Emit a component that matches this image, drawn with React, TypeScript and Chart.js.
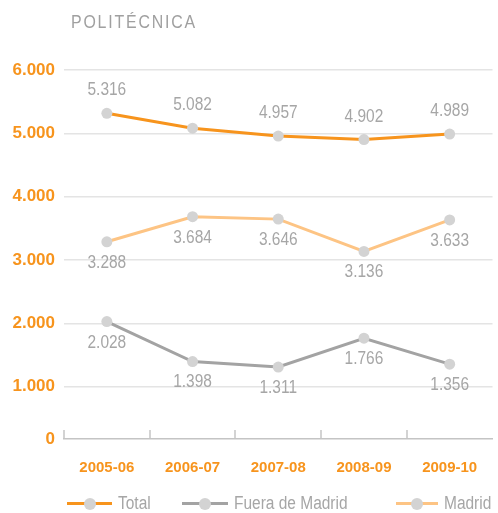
import React, { useEffect, useRef } from "react";
import { Chart, registerables } from "chart.js";

Chart.register(...registerables);

const categories = ["2005-06", "2006-07", "2007-08", "2008-09", "2009-10"];
const totalValues = [5316, 5082, 4957, 4902, 4989];
const fueraValues = [2028, 1398, 1311, 1766, 1356];
const madridValues = [3288, 3684, 3646, 3136, 3633];
const yTickValues = [0, 1000, 2000, 3000, 4000, 5000, 6000];
const seriesNames = ["Total", "Fuera de Madrid", "Madrid"];

const ORANGE = "#f7941d";
const LIGHT_ORANGE = "#fdc484";
const GRAY_LINE = "#a3a3a3";
const POINT = "#d3d3d3";
const TEXT_GRAY = "#a6a6a6";
const FONT = '"Liberation Sans", Arial, sans-serif';
const SQUEEZE = 0.86;

const AXIS_BASE = 175; // visual position of the "0" baseline in the original

const fmt = (v: number) => {
  const s = Math.round(v).toString();
  return s.replace(/\B(?=(\d{3})+(?!\d))/g, ".");
};

const valueLabels = {
  id: "valueLabels",
  afterDatasetsDraw(chart: any) {
    const ctx = chart.ctx;
    chart.data.datasets.forEach((ds: any, i: number) => {
      const meta = chart.getDatasetMeta(i);
      meta.data.forEach((pt: any, j: number) => {
        ctx.save();
        ctx.font = `18px ${FONT}`;
        ctx.fillStyle = TEXT_GRAY;
        ctx.textAlign = "center";
        ctx.textBaseline = "middle";
        ctx.translate(pt.x, pt.y + ds.labelOffset);
        ctx.scale(SQUEEZE, 1);
        ctx.fillText(fmt(ds.data[j]), 0, 0);
        ctx.restore();
      });
    });
  },
};

const axisTicks = {
  id: "axisTicks",
  afterDraw(chart: any) {
    const x = chart.scales.x;
    const ctx = chart.ctx;
    ctx.save();
    ctx.strokeStyle = "#c4c4c4";
    ctx.lineWidth = 1.5;
    for (let i = 0; i < categories.length; i++) {
      const px = Math.round(x.getPixelForValue(i - 0.5));
      ctx.beginPath();
      ctx.moveTo(px, x.top);
      ctx.lineTo(px, x.top - 9);
      ctx.stroke();
    }
    ctx.restore();
  },
};

function LegendItem({ left, color, label, lineW }: any) {
  return (
    <div style={{ position: "absolute", left, top: 492, height: 22, display: "flex", alignItems: "center" }}>
      <div style={{ position: "relative", width: lineW, height: 22 }}>
        <div style={{ position: "absolute", left: 0, right: 0, top: 10, height: 3, background: color }} />
        <div
          style={{
            position: "absolute",
            left: lineW / 2 - 6,
            top: 5.5,
            width: 12,
            height: 12,
            borderRadius: 6,
            background: POINT,
          }}
        />
      </div>
      <span
        style={{
          marginLeft: 6,
          font: `18px ${FONT}`,
          color: TEXT_GRAY,
          whiteSpace: "nowrap",
          display: "inline-block",
          transform: `scaleX(${SQUEEZE})`,
          transformOrigin: "left center",
        }}
      >
        {label}
      </span>
    </div>
  );
}

export default function App() {
  const ref = useRef<HTMLCanvasElement>(null);

  useEffect(() => {
    if (!ref.current) return;
    const common = {
      borderWidth: 3,
      pointBackgroundColor: POINT,
      pointBorderWidth: 0,
      pointRadius: 5.5,
      tension: 0,
    };
    const chart = new Chart(ref.current, {
      type: "line",
      data: {
        labels: categories,
        datasets: [
          { ...common, label: seriesNames[0], data: totalValues, borderColor: ORANGE, labelOffset: -23 } as any,
          { ...common, label: seriesNames[1], data: fueraValues, borderColor: GRAY_LINE, labelOffset: 21 } as any,
          { ...common, label: seriesNames[2], data: madridValues, borderColor: LIGHT_ORANGE, labelOffset: 21 } as any,
        ],
      },
      options: {
        animation: false,
        responsive: true,
        maintainAspectRatio: false,
        layout: { padding: { top: 70, left: 0, right: 0, bottom: 0 } },
        plugins: {
          legend: { display: false },
          tooltip: { enabled: false },
        },
        scales: {
          x: {
            offset: true,
            grid: { display: false },
            border: { display: true, color: "#c4c4c4", width: 1.5 },
            ticks: {
              color: ORANGE,
              font: { family: FONT, size: 15, weight: "bold" },
              padding: 12,
              maxRotation: 0,
            },
            afterFit: (s: any) => {
              s.height = 74;
            },
          },
          y: {
            min: AXIS_BASE,
            max: 6000,
            afterBuildTicks: (s: any) => {
              s.ticks = yTickValues.map((v) => ({ value: v === 0 ? AXIS_BASE : v }));
            },
            grid: {
              color: (c: any) => (c.tick && c.tick.value === AXIS_BASE ? "rgba(0,0,0,0)" : "#e4e4e4"),
              lineWidth: 1.5,
              drawTicks: false,
            },
            border: { display: false },
            ticks: {
              color: ORANGE,
              font: { family: FONT, size: 17, weight: "bold" },
              padding: 9,
              callback: (v: any) => (v === AXIS_BASE ? "0" : fmt(Number(v))),
            },
            afterFit: (s: any) => {
              s.width = 64;
            },
          },
        },
      },
      plugins: [valueLabels, axisTicks],
    });
    return () => chart.destroy();
  }, []);

  return (
    <div style={{ position: "absolute", left: 0, top: 0, width: 498, height: 513, background: "#fff", overflow: "hidden" }}>
      <canvas ref={ref} style={{ position: "absolute", left: 0, top: 0, width: 498, height: 513 }} />
      <div
        style={{
          position: "absolute",
          left: 71,
          top: 13,
          font: `18.5px ${FONT}`,
          lineHeight: "18px",
          letterSpacing: "2.1px",
          color: "#a0a0a0",
          whiteSpace: "nowrap",
          transform: `scaleX(${SQUEEZE})`,
          transformOrigin: "left center",
        }}
      >
        POLITÉCNICA
      </div>
      <LegendItem left={67} color={ORANGE} label={seriesNames[0]} lineW={45} />
      <LegendItem left={182} color={GRAY_LINE} label={seriesNames[1]} lineW={46} />
      <LegendItem left={396} color={LIGHT_ORANGE} label={seriesNames[2]} lineW={42} />
    </div>
  );
}
